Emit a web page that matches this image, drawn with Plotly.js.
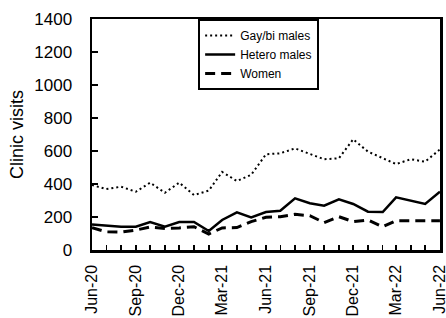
<!DOCTYPE html>
<html>
<head>
<meta charset="utf-8">
<script src="https://cdn.plot.ly/plotly-3.0.1.min.js"></script>
<style>html,body{margin:0;padding:0;background:#fff;}#chart{width:446px;height:318px;}</style>
</head>
<body>
<div id="chart"></div>
<script>
const months = ['2020-06-01','2020-07-01','2020-08-01','2020-09-01','2020-10-01','2020-11-01','2020-12-01',
  '2021-01-01','2021-02-01','2021-03-01','2021-04-01','2021-05-01','2021-06-01','2021-07-01','2021-08-01',
  '2021-09-01','2021-10-01','2021-11-01','2021-12-01','2022-01-01','2022-02-01','2022-03-01','2022-04-01',
  '2022-05-01','2022-06-01'];
const seriesNames = ['Gay/bi males', 'Hetero males', 'Women'];
const gayBiMales = [394, 369, 384, 353, 408, 347, 408, 333, 360, 473, 418, 456, 580, 586, 616, 580, 550, 556, 671, 596, 556, 521, 550, 535, 610];
const heteroMales = [155, 148, 141, 141, 170, 141, 170, 170, 115, 182, 228, 198, 230, 238, 313, 283, 269, 307, 279, 232, 230, 319, 299, 279, 353];
const women = [135, 110, 108, 121, 139, 131, 134, 141, 97, 134, 136, 172, 198, 202, 216, 208, 166, 202, 172, 182, 141, 178, 178, 178, 178];
const yTickVals = [0, 200, 400, 600, 800, 1000, 1200, 1400];
const xTickVals = months.filter((m, i) => i % 3 === 0);

const font = 'Liberation Sans, Arial, sans-serif';
const traces = [
  {x: months, y: gayBiMales, name: seriesNames[0], mode: 'lines', line: {color: '#000', width: 2, dash: '2px,3px'}},
  {x: months, y: heteroMales, name: seriesNames[1], mode: 'lines', line: {color: '#000', width: 2.5}},
  {x: months, y: women, name: seriesNames[2], mode: 'lines', line: {color: '#000', width: 3, dash: '10px,6px'}}
];
const layout = {
  width: 446, height: 318,
  margin: {l: 92, r: 6, t: 19, b: 68},
  paper_bgcolor: '#fff', plot_bgcolor: '#fff',
  font: {family: font, color: '#000'},
  showlegend: true,
  legend: {x: 0.305, y: 1, xanchor: 'left', yanchor: 'top', bgcolor: '#fff', bordercolor: '#000', borderwidth: 2,
    font: {size: 12, family: font, color: '#000'}, tracegroupgap: 0},
  xaxis: {
    type: 'date', range: ['2020-06-01', '2022-06-01 03:00'],
    tickmode: 'array', tickvals: xTickVals, tickformat: '%b-%y', tickangle: -90,
    ticklabeloverflow: 'allow',
    ticks: 'inside', ticklen: 5, tickwidth: 1.5, tickcolor: '#000',
    minor: {dtick: 'M1', tick0: months[0], ticks: 'inside', ticklen: 5, tickwidth: 1.5, tickcolor: '#000', showgrid: false},
    showgrid: false, zeroline: false, showline: true, linecolor: '#000', linewidth: 2.5, mirror: true,
    tickfont: {size: 16, family: font, color: '#000'}, ticklabelstandoff: 6
  },
  yaxis: {
    range: [0, 1400], tickvals: yTickVals,
    ticks: 'inside', ticklen: 6, tickwidth: 2, tickcolor: '#000',
    showgrid: false, zeroline: false, showline: true, linecolor: '#000', linewidth: 2.5, mirror: true,
    tickfont: {size: 17, family: font, color: '#000'}, ticklabelstandoff: 14,
    title: {text: 'Clinic visits', font: {size: 18, family: font, color: '#000'}, standoff: 6}
  }
};
Plotly.newPlot('chart', traces, layout, {displayModeBar: false, staticPlot: true});
</script>
</body>
</html>
